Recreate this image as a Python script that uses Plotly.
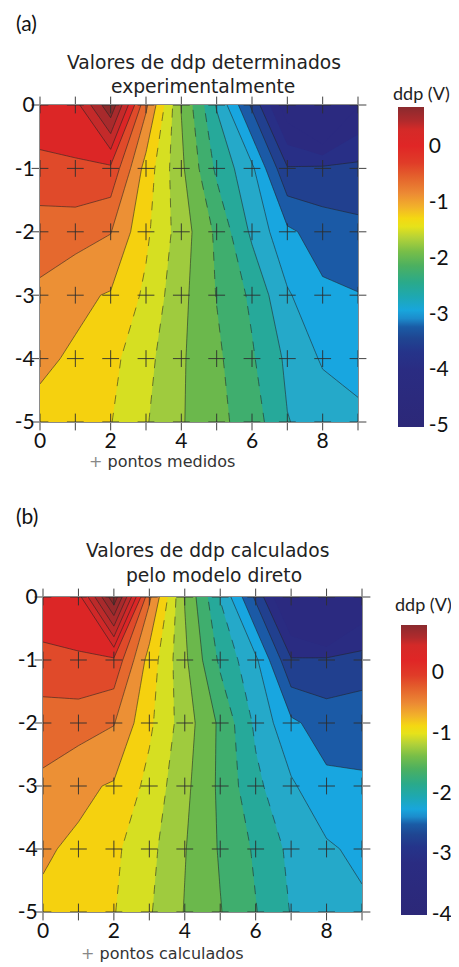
import plotly.graph_objects as go

W, H = 459, 967

# ---------------- data ----------------
x_vals = [0, 1, 2, 3, 4, 5, 6, 7, 8, 9]
y_vals = [0, -1, -2, -3, -4, -5]

x_tick_vals = [0, 2, 4, 6, 8]
x_tick_text = ["0", "2", "4", "6", "8"]
y_tick_vals = [0, -1, -2, -3, -4, -5]
y_tick_text = ["0", "-1", "-2", "-3", "-4", "-5"]
cbar_a_vals = [0, -1, -2, -3, -4, -5]
cbar_a_text = ["0", "-1", "-2", "-3", "-4", "-5"]
cbar_b_vals = [0, -1, -2, -3, -4]
cbar_b_text = ["0", "-1", "-2", "-3", "-4"]

# rows: y = 0, -1, ..., -5 ; columns: x = 0..9
ddp_medido = [
    [-0.06, -0.10, 0.70, -0.70, -1.76, -2.52, -3.30, -4.20, -4.90, -4.02],
    [-0.33, -0.28, -0.30, -1.10, -1.70, -2.30, -2.70, -3.48, -3.45, -3.44],
    [-0.62, -0.64, -0.74, -1.20, -1.62, -2.05, -2.55, -2.95, -3.12, -3.18],
    [-0.80, -0.95, -1.02, -1.30, -1.68, -2.01, -2.30, -2.72, -2.95, -2.99],
    [-0.96, -1.03, -1.18, -1.42, -1.72, -1.95, -2.22, -2.55, -2.78, -2.86],
    [-1.06, -1.12, -1.24, -1.48, -1.73, -1.93, -2.12, -2.49, -2.60, -2.68],
]
ddp_calculado = [
    [-0.25, -0.28, 0.75, -0.76, -1.61, -2.21, -2.84, -3.56, -4.12, -3.40],
    [-0.46, -0.42, -0.44, -1.08, -1.56, -2.04, -2.36, -2.98, -2.96, -2.93],
    [-0.70, -0.71, -0.79, -1.16, -1.50, -1.84, -2.24, -2.56, -2.70, -2.66],
    [-0.84, -0.96, -1.02, -1.26, -1.55, -1.84, -2.15, -2.37, -2.55, -2.58],
    [-0.98, -1.03, -1.16, -1.34, -1.59, -1.82, -2.03, -2.25, -2.37, -2.45],
    [-1.03, -1.10, -1.19, -1.38, -1.61, -1.79, -1.99, -2.21, -2.30, -2.36],
]

# ---------------- styles ----------------
bands_a = [
    "#2b2a80", "#2b2a80", "#282f86", "#21408f", "#1b5aa6", "#18a6e0",
    "#25a9c9", "#26a99a", "#3fae6e", "#6bb84c", "#9fcb3e", "#d6df22",
    "#f5d10f", "#ec9035", "#e5692e", "#e04a2a", "#dc2626", "#c42a2a",
    "#a82a2c", "#8b2a2a",
]
bands_b = [
    "#2b2a80", "#2a2c82", "#21408f", "#1b5aa6", "#18a6e0", "#25a9c9",
    "#26a99a", "#3fae6e", "#6bb84c", "#9fcb3e", "#d6df22", "#f5d10f",
    "#ec9035", "#e5692e", "#e04a2a", "#dc2626", "#d02828", "#bc2a2a",
    "#a82a2c", "#962a2c", "#842a2a",
]
cbar_scale = [
    [0.000, "#2c2878"], [0.180, "#2a2c82"], [0.235, "#25348a"],
    [0.278, "#1f4692"], [0.313, "#1a5ca6"], [0.339, "#1c8ccc"],
    [0.365, "#18a6dc"], [0.409, "#1ea8b0"], [0.452, "#2aaa8a"],
    [0.504, "#4cb060"], [0.548, "#78be48"], [0.591, "#b4d238"],
    [0.626, "#e6e21a"], [0.652, "#f4d812"], [0.687, "#f2b22a"],
    [0.730, "#ec8a34"], [0.783, "#e4602c"], [0.826, "#e03c28"],
    [0.878, "#e02626"], [0.930, "#d42a28"], [0.957, "#b02a2c"],
    [1.000, "#8a2a2e"],
]

OFF = 8  # page body margin offset of the figure


def step_scale(colors):
    n = len(colors) - 1
    return [[j / n, c] for j, c in enumerate(colors)]


def fx(px):
    return (px - OFF) / W


def fy(py):
    return 1 - (py - OFF) / H


panels = [
    dict(z=ddp_medido, xa="x", ya="y", start=-4.0, end=0.5, size=0.25,
         bands=bands_a,
         solid=[(-3.5, -2.5), (-1.75, -1.75), (-1.0, 0.5)],
         dashed=[(-2.25, -2.0), (-1.5, -1.25)],
         cmin=-5.04, cmax=0.70, cb_x=398, cb_top=107, cb_len=320,
         cb_vals=cbar_a_vals, cb_text=cbar_a_text),
    dict(z=ddp_calculado, xa="x2", ya="y2", start=-3.2, end=0.6, size=0.2,
         bands=bands_b,
         solid=[(-3.0, -2.4), (-1.8, -1.6), (-1.0, 0.6)],
         dashed=[(-2.2, -2.0), (-1.4, -1.2)],
         cmin=-4.03, cmax=0.78, cb_x=401, cb_top=625, cb_len=290,
         cb_vals=cbar_b_vals, cb_text=cbar_b_text),
]

fig = go.Figure()

gx = [x for y in y_vals for x in x_vals]
gy = [y for y in y_vals for x in x_vals]

for p in panels:
    fig.add_trace(go.Contour(
        x=x_vals, y=y_vals, z=p["z"], xaxis=p["xa"], yaxis=p["ya"],
        autocontour=False,
        contours=dict(start=p["start"], end=p["end"], size=p["size"],
                      coloring="fill", showlines=False),
        colorscale=step_scale(p["bands"]), showscale=False,
        line=dict(width=0, smoothing=0), hoverinfo="skip"))
    for (s, e), dash in [(r, "solid") for r in p["solid"]] + [(r, "dash") for r in p["dashed"]]:
        fig.add_trace(go.Contour(
            x=x_vals, y=y_vals, z=p["z"], xaxis=p["xa"], yaxis=p["ya"],
            autocontour=False,
            contours=dict(start=s, end=e, size=p["size"], coloring="none"),
            line=dict(color="rgba(35,35,35,0.8)", width=0.7, dash=dash, smoothing=0),
            showscale=False, hoverinfo="skip"))
    fig.add_trace(go.Scatter(
        x=gx, y=gy, xaxis=p["xa"], yaxis=p["ya"], mode="markers",
        marker=dict(symbol="cross-thin", size=12,
                    line=dict(width=0.9, color="#2e2e2e")),
        cliponaxis=False, hoverinfo="skip", showlegend=False))
    fig.add_trace(go.Scatter(
        x=[0, 0], y=[0, 0], xaxis=p["xa"], yaxis=p["ya"], mode="markers",
        marker=dict(size=2, opacity=0, color=[p["cmin"], p["cmax"]],
                    colorscale=cbar_scale, cmin=p["cmin"], cmax=p["cmax"],
                    showscale=True,
                    colorbar=dict(
                        x=fx(p["cb_x"]), xanchor="left",
                        y=fy(p["cb_top"]), yanchor="top",
                        len=p["cb_len"], lenmode="pixels",
                        thickness=26, thicknessmode="pixels",
                        xpad=0, ypad=0, outlinewidth=0,
                        tickvals=p["cb_vals"], ticktext=p["cb_text"],
                        ticks="", tickfont=dict(family="Lato", size=21, color="#111"))),
        hoverinfo="skip", showlegend=False))

axis_style = dict(showgrid=False, zeroline=False, showline=True,
                  linecolor="#8a8a8a", linewidth=1, mirror=True, ticks="",
                  tickfont=dict(family="Lato", size=21, color="#111"))

fig.update_layout(
    width=W, height=H, margin=dict(l=0, r=0, t=0, b=0, autoexpand=False),
    paper_bgcolor="white", plot_bgcolor="white", showlegend=False,
    xaxis=dict(domain=[fx(40), fx(358)], range=[0, 9], anchor="y",
               tickvals=x_tick_vals, ticktext=x_tick_text, **axis_style),
    yaxis=dict(domain=[fy(422), fy(105)], range=[-5, 0], anchor="x",
               tickvals=y_tick_vals, ticktext=y_tick_text, **axis_style),
    xaxis2=dict(domain=[fx(43), fx(362)], range=[0, 9], anchor="y2",
                tickvals=x_tick_vals, ticktext=x_tick_text, **axis_style),
    yaxis2=dict(domain=[fy(912), fy(597)], range=[-5, 0], anchor="x2",
                tickvals=y_tick_vals, ticktext=y_tick_text, **axis_style),
)

title_font = dict(family="DejaVu Sans", size=18.7, color="#222")
label_font = dict(family="Lato", size=21, color="#111")
unit_font = dict(family="Lato", size=18, color="#222")
note_font = dict(family="DejaVu Sans", size=16, color="#333")


def ann(text, x, y, font, xanchor="center"):
    fig.add_annotation(text=text, x=fx(x), y=fy(y), xref="paper", yref="paper",
                       xanchor=xanchor, yanchor="middle", showarrow=False, font=font)


ann("(a)", 14, 22, label_font, "left")
ann("Valores de ddp determinados", 204, 63, title_font)
ann("experimentalmente", 203, 86, title_font)
ann("ddp (V)", 421, 93, unit_font)
ann("<span style='color:#888'>+</span> pontos medidos", 162, 462, note_font)

ann("(b)", 14, 515, label_font, "left")
ann("Valores de ddp calculados", 207, 550, title_font)
ann("pelo modelo direto", 214, 575, title_font)
ann("ddp (V)", 423, 604, unit_font)
ann("<span style='color:#888'>+</span> pontos calculados", 162, 953, note_font)

fig.write_html("out.html")
